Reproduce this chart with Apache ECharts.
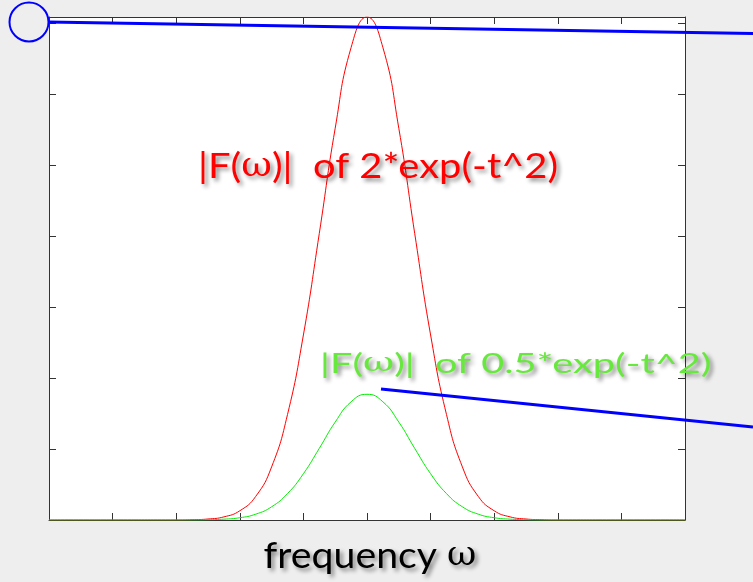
<!DOCTYPE html>
<html>
<head>
<meta charset="utf-8">
<script src="https://cdn.jsdelivr.net/npm/echarts@6/dist/echarts.min.js"></script>
<style>
  html, body { margin: 0; padding: 0; background: #eeeeee; }
  #chart { width: 753px; height: 582px; }
</style>
</head>
<body>
<div id="chart"></div>
<script>
// Frequency samples (omega) and spectrum magnitudes |F(omega)|
const omega = [-10, -8, -6, -5.5, -5, -4.5, -4, -3.5, -3, -2.5, -2, -1.5, -1, -0.5,
  0, 0.5, 1, 1.5, 2, 2.5, 3, 3.5, 4, 4.5, 5, 5.5, 6, 8, 10];
const magBig = [0, 0, 0, 0.002, 0.007, 0.022, 0.065, 0.166, 0.374, 0.743, 1.304, 2.020, 2.761, 3.330,
  3.545, 3.330, 2.761, 2.020, 1.304, 0.743, 0.374, 0.166, 0.065, 0.022, 0.007, 0.002, 0, 0, 0];
const magSmall = [0, 0, 0, 0, 0.002, 0.006, 0.016, 0.041, 0.093, 0.186, 0.326, 0.505, 0.690, 0.833,
  0.886, 0.833, 0.690, 0.505, 0.326, 0.186, 0.093, 0.041, 0.016, 0.006, 0.002, 0, 0, 0, 0];

// Axis ranges and tick steps
const xRange = [-10, 10];
const xStep = 2;
const yRange = [0, 3.545];
const yStep = 0.5;

const labelBig = '{t||F(}{w|ω}{t|)|  of 2*exp(-t^2)}';
const labelSmall = '{t||F(}{w|ω}{t|)|  of 0.5*exp(-t^2)}';
const axisTitle = '{t|frequency }{w|ω}';

const chart = echarts.init(document.getElementById('chart'), null, { renderer: 'canvas' });

const lineCol = '#333333';
function frameAxis(position, range, step) {
  return {
    type: 'value',
    position: position,
    min: range[0],
    max: range[1],
    interval: step,
    axisLine: { show: true, onZero: false, lineStyle: { color: lineCol, width: 1 } },
    axisTick: { show: true, inside: true, length: 7, lineStyle: { color: lineCol, width: 1 } },
    axisLabel: { show: false },
    splitLine: { show: false }
  };
}

const shadow = {
  textShadowColor: 'rgba(0,0,0,0.45)',
  textShadowBlur: 4,
  textShadowOffsetX: 3,
  textShadowOffsetY: 3
};

chart.setOption({
  backgroundColor: '#eeeeee',
  animation: false,
  grid: {
    left: 49, right: 68, top: 17, bottom: 62,
    show: true, backgroundColor: '#ffffff', borderWidth: 0
  },
  xAxis: [frameAxis('bottom', xRange, xStep), frameAxis('top', xRange, xStep)],
  yAxis: [frameAxis('left', yRange, yStep), frameAxis('right', yRange, yStep)],
  series: [
    {
      type: 'line',
      data: omega.map((w, i) => [w, magBig[i]]),
      smooth: true,
      showSymbol: false,
      lineStyle: { color: '#ff0000', width: 1 }
    },
    {
      type: 'line',
      data: omega.map((w, i) => [w, magSmall[i]]),
      smooth: true,
      showSymbol: false,
      lineStyle: { color: '#00ee00', width: 1 }
    }
  ],
  graphic: [
    {
      type: 'circle', z: 100,
      shape: { cx: 29, cy: 22, r: 19.5 },
      style: { fill: 'none', stroke: '#0000ff', lineWidth: 2 }
    },
    {
      type: 'line', z: 100,
      shape: { x1: 48, y1: 22, x2: 753, y2: 33.5 },
      style: { stroke: '#0000ff', lineWidth: 3 }
    },
    {
      type: 'line', z: 100,
      shape: { x1: 381, y1: 389, x2: 753, y2: 427 },
      style: { stroke: '#0000ff', lineWidth: 3 }
    },
    {
      type: 'text', z: 100,
      x: 198, y: 167, scaleX: 1.14,
      style: Object.assign({
        text: labelBig,
        align: 'left',
        verticalAlign: 'middle',
        rich: {
          t: { fontFamily: 'Lato', fontSize: 35, fill: '#ff0000' },
          w: { fontFamily: 'DejaVu Serif', fontSize: 33, fill: '#ff0000' }
        }
      }, shadow)
    },
    {
      type: 'text', z: 100,
      x: 320, y: 364, scaleX: 1.47,
      style: Object.assign({
        text: labelSmall,
        align: 'left',
        verticalAlign: 'middle',
        rich: {
          t: { fontFamily: 'Lato', fontSize: 27, fill: '#66e83c' },
          w: { fontFamily: 'DejaVu Serif', fontSize: 26, fill: '#66e83c' }
        }
      }, shadow)
    },
    {
      type: 'text', z: 100,
      x: 370, y: 556, scaleX: 1.09,
      style: Object.assign({
        text: axisTitle,
        align: 'center',
        verticalAlign: 'middle',
        rich: {
          t: { fontFamily: 'Lato', fontSize: 36, fill: '#000000' },
          w: { fontFamily: 'DejaVu Serif', fontSize: 33, fill: '#000000' }
        }
      }, shadow)
    }
  ]
});
</script>
</body>
</html>
